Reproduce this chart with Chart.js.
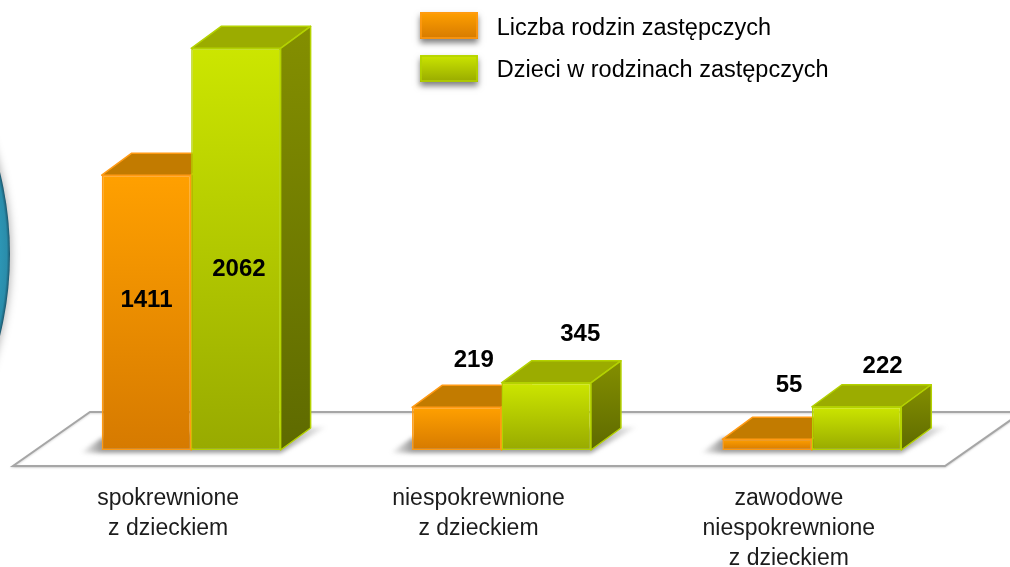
<!DOCTYPE html>
<html lang="pl">
<head>
<meta charset="utf-8">
<title>Rodziny zastępcze</title>
<style>
    html, body {margin: 0; padding: 0; background: #fff;}
    canvas {display: block; filter: blur(0.6px);}
</style>
<script src="https://cdn.jsdelivr.net/npm/chart.js@4"></script>
</head>
<body>
<canvas id="familyChart" width="1010" height="567"></canvas>
<script>
const categories = [
    ['spokrewnione', 'z dzieckiem'],
    ['niespokrewnione', 'z dzieckiem'],
    ['zawodowe', 'niespokrewnione', 'z dzieckiem']
];
const familyCounts = [1411, 219, 55];
const childCounts = [2062, 345, 222];
const seriesNames = ['Liczba rodzin zastępczych', 'Dzieci w rodzinach zastępczych'];

const fontName = '"Liberation Sans", Arial, sans-serif',
      depthX = 30,
      depthY = 22;

const palette = [
    {front: ['#ffa000', '#d67a00'], top: '#c27b00', side: ['#a86a00', '#8a5600'], border: '#ff9a14'},
    {front: ['#cce600', '#98aa00'], top: '#9bac00', side: ['#848f00', '#5e6a00'], border: '#b4d200'}
];

// where the value labels sit relative to the top centre of the front face
const labelOffsets = [
    [[0, 125], [17, -47], [22, -54]],
    [[3, 221], [34, -48], [26, -40]]
];

function verticalGradient(ctx, top, bottom, colors) {
    const gradient = ctx.createLinearGradient(0, top, 0, bottom);
    gradient.addColorStop(0, colors[0]);
    gradient.addColorStop(1, colors[1]);
    return gradient;
}

function frontFill(datasetIndex) {
    return function(context) {
        const chart = context.chart,
              yScale = chart.scales.y;
        if (!chart.chartArea || !yScale || !context.parsed) {return palette[datasetIndex].front[0];}
        return verticalGradient(chart.ctx, yScale.getPixelForValue(context.parsed.y), yScale.getPixelForValue(0), palette[datasetIndex].front);
    };
}

function polygon(ctx, points) {
    ctx.beginPath();
    points.forEach((p, i) => {
        if (i === 0) {ctx.moveTo(p[0], p[1]);} else {ctx.lineTo(p[0], p[1]);}
    });
    ctx.closePath();
}

function drawFloorAndDisc(chart) {
    const ctx = chart.ctx;

    // the disc cut off by the left edge of the slide
    ctx.save();
    ctx.shadowColor = 'rgba(0, 0, 0, 0.3)';
    ctx.shadowBlur = 8;
    ctx.shadowOffsetX = 1;
    const disc = ctx.createRadialGradient(-331, 254, 325, -331, 254, 341);
    disc.addColorStop(0, '#2f9dbd');
    disc.addColorStop(0.8, '#2a8dab');
    disc.addColorStop(1, '#1c566c');
    ctx.fillStyle = disc;
    ctx.beginPath();
    ctx.arc(-331, 254, 341, 0, Math.PI * 2);
    ctx.fill();
    ctx.restore();

    // floor
    ctx.save();
    ctx.shadowColor = 'rgba(0, 0, 0, 0.15)';
    ctx.shadowBlur = 2;
    ctx.shadowOffsetY = 1;
    ctx.strokeStyle = '#a6a6a6';
    ctx.lineWidth = 2;
    ctx.fillStyle = '#fff';
    polygon(ctx, [[90, 412], [1022, 412], [945, 466], [13, 466]]);
    ctx.fill();
    ctx.stroke();
    ctx.restore();
}

const chart3dPlugin = {
    id: 'chart3d',
    beforeDatasetsDraw(chart) {
        const ctx = chart.ctx,
              first = chart.getDatasetMeta(0).data,
              second = chart.getDatasetMeta(1).data;

        drawFloorAndDisc(chart);

        // soft shadows on the floor
        first.forEach((bar, i) => {
            const left = bar.x - bar.width / 2,
                  other = second[i],
                  right = other.x + other.width / 2,
                  base = bar.base,
                  shade = ctx.createLinearGradient(left - 22, 0, right + 46, 0),
                  span = right + 68 - left;
            shade.addColorStop(0, 'rgba(90, 90, 90, 0)');
            shade.addColorStop(22 / span, 'rgba(90, 90, 90, 0.6)');
            shade.addColorStop((span - 46) / span, 'rgba(90, 90, 90, 0.6)');
            shade.addColorStop(1, 'rgba(90, 90, 90, 0.05)');
            ctx.save();
            ctx.filter = 'blur(2px)';
            ctx.fillStyle = shade;
            polygon(ctx, [[left - 22, base + 3], [left, base - 12], [right, base - 22], [right + 46, base - 23], [right, base + 3]]);
            ctx.fill();
            ctx.restore();
        });

        // top and side faces
        [first, second].forEach((bars, d) => {
            const colors = palette[d];
            bars.forEach(bar => {
                const left = bar.x - bar.width / 2,
                      right = bar.x + bar.width / 2,
                      top = bar.y,
                      base = bar.base;
                ctx.save();
                ctx.lineWidth = 1.5;
                ctx.lineJoin = 'round';
                ctx.strokeStyle = colors.border;

                polygon(ctx, [[left, top], [left + depthX, top - depthY], [right + depthX, top - depthY], [right, top]]);
                ctx.fillStyle = colors.top;
                ctx.fill();
                ctx.stroke();

                polygon(ctx, [[right, top], [right + depthX, top - depthY], [right + depthX, base - depthY], [right, base]]);
                ctx.fillStyle = verticalGradient(ctx, top - depthY, base, colors.side);
                ctx.fill();
                ctx.stroke();
                ctx.restore();
            });
        });
    },
    afterDatasetsDraw(chart) {
        const ctx = chart.ctx;
        ctx.save();
        ctx.fillStyle = '#000';
        ctx.font = 'bold 24px ' + fontName;
        ctx.textAlign = 'center';
        ctx.textBaseline = 'middle';
        chart.data.datasets.forEach((dataset, d) => {
            chart.getDatasetMeta(d).data.forEach((bar, i) => {
                const offset = labelOffsets[d][i];
                ctx.fillText(dataset.data[i], bar.x + offset[0], bar.y + offset[1]);
            });
        });
        ctx.restore();
    },
    afterLayout(chart) {
        // legend sits in the upper middle of the slide, over the plot
        chart.legend.left = 404;
        chart.legend.top = 0;
    },
    beforeDraw(chart) {
        const ctx = chart.ctx,
              swatchTops = [12, 55];
        swatchTops.forEach((top, d) => {
            ctx.save();
            ctx.shadowColor = 'rgba(0, 0, 0, 0.5)';
            ctx.shadowBlur = 6;
            ctx.shadowOffsetY = 4;
            ctx.fillStyle = verticalGradient(ctx, top, top + 27, palette[d].front);
            ctx.fillRect(420, top, 58, 27);
            ctx.restore();
            ctx.strokeStyle = palette[d].border;
            ctx.lineWidth = 1.5;
            ctx.strokeRect(421, top + 1, 56, 25);
        });
    }
};

new Chart(document.getElementById('familyChart'), {
    type: 'bar',
    data: {
        labels: categories,
        datasets: [
            {label: seriesNames[0], data: familyCounts, backgroundColor: frontFill(0), borderColor: palette[0].border},
            {label: seriesNames[1], data: childCounts, backgroundColor: frontFill(1), borderColor: palette[1].border}
        ]
    },
    options: {
        responsive: false,
        animation: false,
        layout: {padding: {left: 36, right: 43, top: 2, bottom: 0}},
        datasets: {
            bar: {
                barPercentage: 1,
                categoryPercentage: 0.5765,
                borderWidth: 1.5,
                borderSkipped: false
            }
        },
        scales: {
            y: {display: false, min: 0, max: 2300},
            x: {
                afterFit: function(scale) {scale.height = 117;},
                grid: {display: false, drawTicks: false},
                border: {display: false},
                ticks: {
                    color: '#1c1c1c',
                    font: {family: fontName, size: 23, lineHeight: 30 / 23},
                    padding: 34,
                    labelOffset: -23,
                    maxRotation: 0,
                    autoSkip: false
                }
            }
        },
        plugins: {
            tooltip: {enabled: false},
            legend: {
                position: 'chartArea',
                align: 'start',
                labels: {
                    boxWidth: 66,
                    boxHeight: 27,
                    padding: 15,
                    color: '#1c1c1c',
                    font: {family: fontName, size: 23.5},
                    generateLabels: function() {
                        return seriesNames.map((name, i) => ({
                            text: name,
                            fillStyle: 'transparent',
                            strokeStyle: 'transparent',
                            lineWidth: 0,
                            datasetIndex: i
                        }));
                    }
                }
            }
        }
    },
    plugins: [chart3dPlugin]
});
</script>
</body>
</html>
